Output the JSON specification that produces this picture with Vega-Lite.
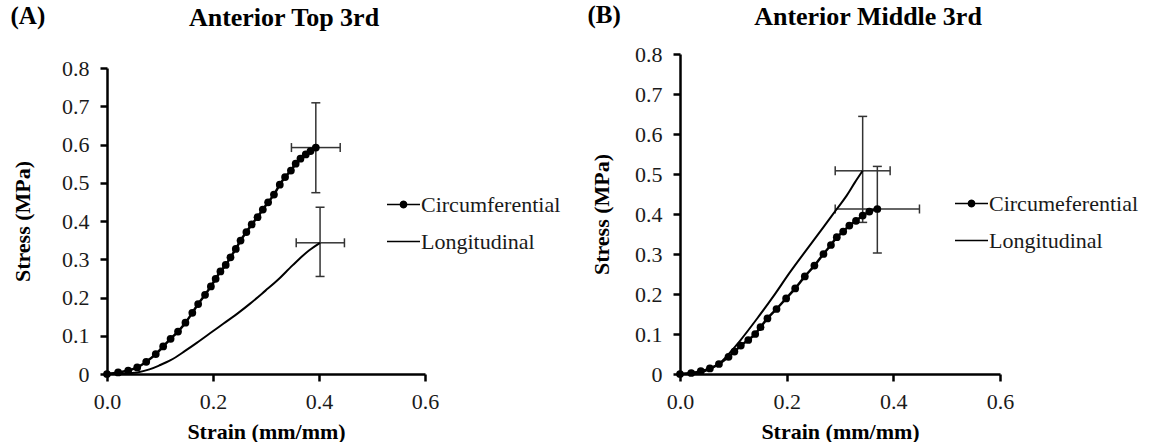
{
  "$schema": "https://vega.github.io/schema/vega-lite/v6.json",
  "background": "white",
  "padding": {"left": 10, "top": 3, "right": 4, "bottom": 0},
  "spacing": 26,
  "resolve": {"scale": {"shape": "independent"}, "legend": {"shape": "independent"}},
  "config": {
    "view": {"stroke": null},
    "font": "Liberation Serif",
    "axis": {
      "grid": false,
      "domainColor": "black",
      "domainWidth": 2.5,
      "tickColor": "black",
      "tickWidth": 2.5,
      "tickSize": 7,
      "labelFont": "Liberation Serif",
      "labelFontSize": 22,
      "labelColor": "#1a1a1a",
      "labelPadding": 10,
      "labelFlush": false,
      "labelOverlap": false,
      "labelBound": false,
      "titleFont": "Liberation Serif",
      "titleFontSize": 22,
      "titleFontWeight": "bold",
      "titleColor": "black"
    },
    "axisY": {"labelPadding": 11},
    "axisX": {"titlePadding": 9},
    "legend": {
      "labelFont": "Liberation Serif",
      "labelFontSize": 22,
      "labelColor": "#1a1a1a"
    },
    "title": {
      "font": "Liberation Serif",
      "fontWeight": "bold",
      "color": "black",
      "baseline": "alphabetic"
    }
  },
  "datasets": {
    "topCurves": [
      {"series": "Circumferential", "strain": 0.0, "stress": 0.0},
      {"series": "Circumferential", "strain": 0.021, "stress": 0.004},
      {"series": "Circumferential", "strain": 0.04, "stress": 0.009},
      {"series": "Circumferential", "strain": 0.057, "stress": 0.017},
      {"series": "Circumferential", "strain": 0.074, "stress": 0.032},
      {"series": "Circumferential", "strain": 0.092, "stress": 0.052},
      {"series": "Circumferential", "strain": 0.106, "stress": 0.072},
      {"series": "Circumferential", "strain": 0.12, "stress": 0.092},
      {"series": "Circumferential", "strain": 0.134, "stress": 0.111},
      {"series": "Circumferential", "strain": 0.148, "stress": 0.134},
      {"series": "Circumferential", "strain": 0.161, "stress": 0.16},
      {"series": "Circumferential", "strain": 0.172, "stress": 0.183},
      {"series": "Circumferential", "strain": 0.185, "stress": 0.207},
      {"series": "Circumferential", "strain": 0.196, "stress": 0.229},
      {"series": "Circumferential", "strain": 0.205, "stress": 0.249},
      {"series": "Circumferential", "strain": 0.214, "stress": 0.268},
      {"series": "Circumferential", "strain": 0.224, "stress": 0.285},
      {"series": "Circumferential", "strain": 0.233, "stress": 0.305},
      {"series": "Circumferential", "strain": 0.243, "stress": 0.327},
      {"series": "Circumferential", "strain": 0.252, "stress": 0.349},
      {"series": "Circumferential", "strain": 0.263, "stress": 0.371},
      {"series": "Circumferential", "strain": 0.273, "stress": 0.391},
      {"series": "Circumferential", "strain": 0.284, "stress": 0.41},
      {"series": "Circumferential", "strain": 0.294, "stress": 0.43},
      {"series": "Circumferential", "strain": 0.304, "stress": 0.449},
      {"series": "Circumferential", "strain": 0.315, "stress": 0.469},
      {"series": "Circumferential", "strain": 0.326, "stress": 0.495},
      {"series": "Circumferential", "strain": 0.336, "stress": 0.515},
      {"series": "Circumferential", "strain": 0.347, "stress": 0.532},
      {"series": "Circumferential", "strain": 0.356, "stress": 0.55},
      {"series": "Circumferential", "strain": 0.365, "stress": 0.563},
      {"series": "Circumferential", "strain": 0.375, "stress": 0.574},
      {"series": "Circumferential", "strain": 0.384, "stress": 0.583},
      {"series": "Circumferential", "strain": 0.394, "stress": 0.592},
      {"series": "Longitudinal", "strain": 0.0, "stress": 0.0},
      {"series": "Longitudinal", "strain": 0.03, "stress": 0.001},
      {"series": "Longitudinal", "strain": 0.057, "stress": 0.004},
      {"series": "Longitudinal", "strain": 0.08, "stress": 0.012},
      {"series": "Longitudinal", "strain": 0.098, "stress": 0.022},
      {"series": "Longitudinal", "strain": 0.12, "stress": 0.036},
      {"series": "Longitudinal", "strain": 0.148, "stress": 0.061},
      {"series": "Longitudinal", "strain": 0.17, "stress": 0.082},
      {"series": "Longitudinal", "strain": 0.199, "stress": 0.111},
      {"series": "Longitudinal", "strain": 0.22, "stress": 0.132},
      {"series": "Longitudinal", "strain": 0.249, "stress": 0.161},
      {"series": "Longitudinal", "strain": 0.27, "stress": 0.184},
      {"series": "Longitudinal", "strain": 0.299, "stress": 0.218},
      {"series": "Longitudinal", "strain": 0.32, "stress": 0.243},
      {"series": "Longitudinal", "strain": 0.35, "stress": 0.284},
      {"series": "Longitudinal", "strain": 0.381, "stress": 0.323},
      {"series": "Longitudinal", "strain": 0.402, "stress": 0.343}
    ],
    "topErrors": [
      {"series": "Circumferential", "strain": 0.394, "stress": 0.592, "strainLo": 0.348, "strainHi": 0.44, "stressLo": 0.474, "stressHi": 0.709},
      {"series": "Longitudinal", "strain": 0.402, "stress": 0.343, "strainLo": 0.357, "strainHi": 0.448, "stressLo": 0.255, "stressHi": 0.436}
    ],
    "midCurves": [
      {"series": "Circumeferential", "strain": 0.0, "stress": 0.0},
      {"series": "Circumeferential", "strain": 0.021, "stress": 0.0025},
      {"series": "Circumeferential", "strain": 0.039, "stress": 0.007},
      {"series": "Circumeferential", "strain": 0.056, "stress": 0.014},
      {"series": "Circumeferential", "strain": 0.073, "stress": 0.025},
      {"series": "Circumeferential", "strain": 0.091, "stress": 0.043},
      {"series": "Circumeferential", "strain": 0.102, "stress": 0.056},
      {"series": "Circumeferential", "strain": 0.114, "stress": 0.071},
      {"series": "Circumeferential", "strain": 0.128, "stress": 0.085},
      {"series": "Circumeferential", "strain": 0.141, "stress": 0.1},
      {"series": "Circumeferential", "strain": 0.151, "stress": 0.117},
      {"series": "Circumeferential", "strain": 0.164, "stress": 0.139},
      {"series": "Circumeferential", "strain": 0.181, "stress": 0.1625},
      {"series": "Circumeferential", "strain": 0.199, "stress": 0.189},
      {"series": "Circumeferential", "strain": 0.216, "stress": 0.214},
      {"series": "Circumeferential", "strain": 0.234, "stress": 0.244},
      {"series": "Circumeferential", "strain": 0.252, "stress": 0.271},
      {"series": "Circumeferential", "strain": 0.269, "stress": 0.3},
      {"series": "Circumeferential", "strain": 0.283, "stress": 0.3225},
      {"series": "Circumeferential", "strain": 0.294, "stress": 0.342},
      {"series": "Circumeferential", "strain": 0.306, "stress": 0.356},
      {"series": "Circumeferential", "strain": 0.3175, "stress": 0.371},
      {"series": "Circumeferential", "strain": 0.33, "stress": 0.383},
      {"series": "Circumeferential", "strain": 0.3425, "stress": 0.396},
      {"series": "Circumeferential", "strain": 0.355, "stress": 0.406},
      {"series": "Circumeferential", "strain": 0.37, "stress": 0.4125},
      {"series": "Longitudinal", "strain": 0.0, "stress": 0.0},
      {"series": "Longitudinal", "strain": 0.0375, "stress": 0.004},
      {"series": "Longitudinal", "strain": 0.056, "stress": 0.0125},
      {"series": "Longitudinal", "strain": 0.075, "stress": 0.0275},
      {"series": "Longitudinal", "strain": 0.094, "stress": 0.054},
      {"series": "Longitudinal", "strain": 0.1125, "stress": 0.083},
      {"series": "Longitudinal", "strain": 0.144, "stress": 0.1375},
      {"series": "Longitudinal", "strain": 0.175, "stress": 0.194},
      {"series": "Longitudinal", "strain": 0.206, "stress": 0.254},
      {"series": "Longitudinal", "strain": 0.2375, "stress": 0.311},
      {"series": "Longitudinal", "strain": 0.269, "stress": 0.367},
      {"series": "Longitudinal", "strain": 0.294, "stress": 0.4125},
      {"series": "Longitudinal", "strain": 0.3125, "stress": 0.446},
      {"series": "Longitudinal", "strain": 0.328, "stress": 0.479},
      {"series": "Longitudinal", "strain": 0.3425, "stress": 0.508}
    ],
    "midErrors": [
      {"series": "Circumeferential", "strain": 0.37, "stress": 0.4125, "strainLo": 0.291, "strainHi": 0.449, "stressLo": 0.3025, "stressHi": 0.519},
      {"series": "Longitudinal", "strain": 0.3425, "stress": 0.508, "strainLo": 0.291, "strainHi": 0.394, "stressLo": 0.379, "stressHi": 0.644}
    ]
  },
  "hconcat": [
    {
      "title": {"text": "(A)", "fontSize": 25, "anchor": "start", "offset": -24, "dx": -1},
      "vconcat": [
        {
          "width": 318,
          "height": 320,
          "title": {"text": "Anterior Top 3rd", "fontSize": 26, "anchor": "middle", "dx": 18, "offset": 23},
          "encoding": {
            "x": {
              "field": "strain",
              "type": "quantitative",
              "scale": {"domain": [0, 0.6], "nice": false, "zero": false},
              "axis": {"title": "Strain (mm/mm)", "values": [0, 0.2, 0.4, 0.6], "format": ".1f"}
            },
            "y": {
              "field": "stress",
              "type": "quantitative",
              "scale": {"domain": [0, 0.8], "nice": false, "range": [320, 14]},
              "axis": {
                "title": "Stress (MPa)",
                "values": [0, 0.1, 0.2, 0.3, 0.4, 0.5, 0.6, 0.7, 0.8],
                "labelExpr": "datum.value === 0 ? '0' : format(datum.value, '.1f')",
                "titlePadding": 27
              }
            }
          },
          "layer": [
            {
              "data": {"name": "topCurves"},
              "transform": [{"filter": "false"}],
              "mark": {"type": "point", "filled": true, "color": "black", "opacity": 1},
              "encoding": {
                "shape": {
                  "field": "series",
                  "type": "nominal",
                  "scale": {
                    "domain": ["Circumferential", "Longitudinal"],
                    "range": [
                      "M-1,-0.05L1,-0.05L1,0.05L-1,0.05Z M0.24,0L0.208,0.12L0.12,0.208L0,0.24L-0.12,0.208L-0.208,0.12L-0.24,0L-0.208,-0.12L-0.12,-0.208L0,-0.24L0.12,-0.208L0.208,-0.12Z",
                      "M-1,-0.05L1,-0.05L1,0.05L-1,0.05Z"
                    ]
                  },
                  "legend": {
                    "title": null,
                    "orient": "none",
                    "legendX": 279,
                    "legendY": 133,
                    "padding": 0,
                    "symbolSize": 1089,
                    "symbolFillColor": "black",
                    "symbolOpacity": 1,
                    "labelOffset": 0,
                    "rowPadding": 8
                  }
                }
              }
            },
            {
              "data": {"name": "topErrors"},
              "transform": [{"fold": ["stressLo", "stressHi"], "as": ["end", "stressEnd"]}],
              "mark": {"type": "rule", "color": "#333333", "strokeWidth": 1.5},
              "encoding": {"y2": {"field": "stressEnd"}}
            },
            {
              "data": {"name": "topErrors"},
              "transform": [{"fold": ["strainLo", "strainHi"], "as": ["end", "strainEnd"]}],
              "mark": {"type": "rule", "color": "#333333", "strokeWidth": 1.5},
              "encoding": {"x2": {"field": "strainEnd"}}
            },
            {
              "data": {"name": "topErrors"},
              "transform": [{"fold": ["stressLo", "stressHi"], "as": ["end", "stress"]}],
              "mark": {"type": "tick", "orient": "horizontal", "size": 9, "thickness": 1.5, "color": "#333333", "opacity": 1}
            },
            {
              "data": {"name": "topErrors"},
              "transform": [{"fold": ["strainLo", "strainHi"], "as": ["end", "strain"]}],
              "mark": {"type": "tick", "orient": "vertical", "size": 9, "thickness": 1.5, "color": "#333333", "opacity": 1}
            },
            {
              "data": {"name": "topCurves"},
              "transform": [{"filter": "datum.series === 'Longitudinal'"}],
              "mark": {"type": "line", "color": "black", "strokeWidth": 2, "interpolate": "monotone"}
            },
            {
              "data": {"name": "topCurves"},
              "transform": [{"filter": "datum.series === 'Circumferential'"}],
              "mark": {"type": "line", "color": "black", "strokeWidth": 2.5, "interpolate": "monotone"}
            },
            {
              "data": {"name": "topCurves"},
              "transform": [{"filter": "datum.series === 'Circumferential'"}],
              "mark": {"type": "point", "shape": "circle", "filled": true, "color": "black", "size": 60, "opacity": 1}
            }
          ]
        }
      ]
    },
    {
      "title": {"text": "(B)", "fontSize": 25, "anchor": "start", "offset": -24, "dx": -3},
      "vconcat": [
        {
          "width": 320,
          "height": 320,
          "title": {"text": "Anterior Middle 3rd", "fontSize": 26, "anchor": "middle", "dx": 28, "offset": 13},
          "encoding": {
            "x": {
              "field": "strain",
              "type": "quantitative",
              "scale": {"domain": [0, 0.6], "nice": false, "zero": false},
              "axis": {"title": "Strain (mm/mm)", "values": [0, 0.2, 0.4, 0.6], "format": ".1f"}
            },
            "y": {
              "field": "stress",
              "type": "quantitative",
              "scale": {"domain": [0, 0.8], "nice": false},
              "axis": {
                "title": "Stress (MPa)",
                "values": [0, 0.1, 0.2, 0.3, 0.4, 0.5, 0.6, 0.7, 0.8],
                "labelExpr": "datum.value === 0 ? '0' : format(datum.value, '.1f')",
                "titlePadding": 21
              }
            }
          },
          "layer": [
            {
              "data": {"name": "midCurves"},
              "transform": [{"filter": "false"}],
              "mark": {"type": "point", "filled": true, "color": "black", "opacity": 1},
              "encoding": {
                "shape": {
                  "field": "series",
                  "type": "nominal",
                  "scale": {
                    "domain": ["Circumeferential", "Longitudinal"],
                    "range": [
                      "M-1,-0.05L1,-0.05L1,0.05L-1,0.05Z M0.24,0L0.208,0.12L0.12,0.208L0,0.24L-0.12,0.208L-0.208,0.12L-0.24,0L-0.208,-0.12L-0.12,-0.208L0,-0.24L0.12,-0.208L0.208,-0.12Z",
                      "M-1,-0.05L1,-0.05L1,0.05L-1,0.05Z"
                    ]
                  },
                  "legend": {
                    "title": null,
                    "orient": "none",
                    "legendX": 274,
                    "legendY": 132,
                    "padding": 0,
                    "symbolSize": 1089,
                    "symbolFillColor": "black",
                    "symbolOpacity": 1,
                    "labelOffset": 0,
                    "rowPadding": 8
                  }
                }
              }
            },
            {
              "data": {"name": "midErrors"},
              "transform": [{"fold": ["stressLo", "stressHi"], "as": ["end", "stressEnd"]}],
              "mark": {"type": "rule", "color": "#333333", "strokeWidth": 1.5},
              "encoding": {"y2": {"field": "stressEnd"}}
            },
            {
              "data": {"name": "midErrors"},
              "transform": [{"fold": ["strainLo", "strainHi"], "as": ["end", "strainEnd"]}],
              "mark": {"type": "rule", "color": "#333333", "strokeWidth": 1.5},
              "encoding": {"x2": {"field": "strainEnd"}}
            },
            {
              "data": {"name": "midErrors"},
              "transform": [{"fold": ["stressLo", "stressHi"], "as": ["end", "stress"]}],
              "mark": {"type": "tick", "orient": "horizontal", "size": 9, "thickness": 1.5, "color": "#333333", "opacity": 1}
            },
            {
              "data": {"name": "midErrors"},
              "transform": [{"fold": ["strainLo", "strainHi"], "as": ["end", "strain"]}],
              "mark": {"type": "tick", "orient": "vertical", "size": 9, "thickness": 1.5, "color": "#333333", "opacity": 1}
            },
            {
              "data": {"name": "midCurves"},
              "transform": [{"filter": "datum.series === 'Longitudinal'"}],
              "mark": {"type": "line", "color": "black", "strokeWidth": 2, "interpolate": "monotone"}
            },
            {
              "data": {"name": "midCurves"},
              "transform": [{"filter": "datum.series === 'Circumeferential'"}],
              "mark": {"type": "line", "color": "black", "strokeWidth": 2.5, "interpolate": "monotone"}
            },
            {
              "data": {"name": "midCurves"},
              "transform": [{"filter": "datum.series === 'Circumeferential'"}],
              "mark": {"type": "point", "shape": "circle", "filled": true, "color": "black", "size": 60, "opacity": 1}
            }
          ]
        }
      ]
    }
  ]
}
